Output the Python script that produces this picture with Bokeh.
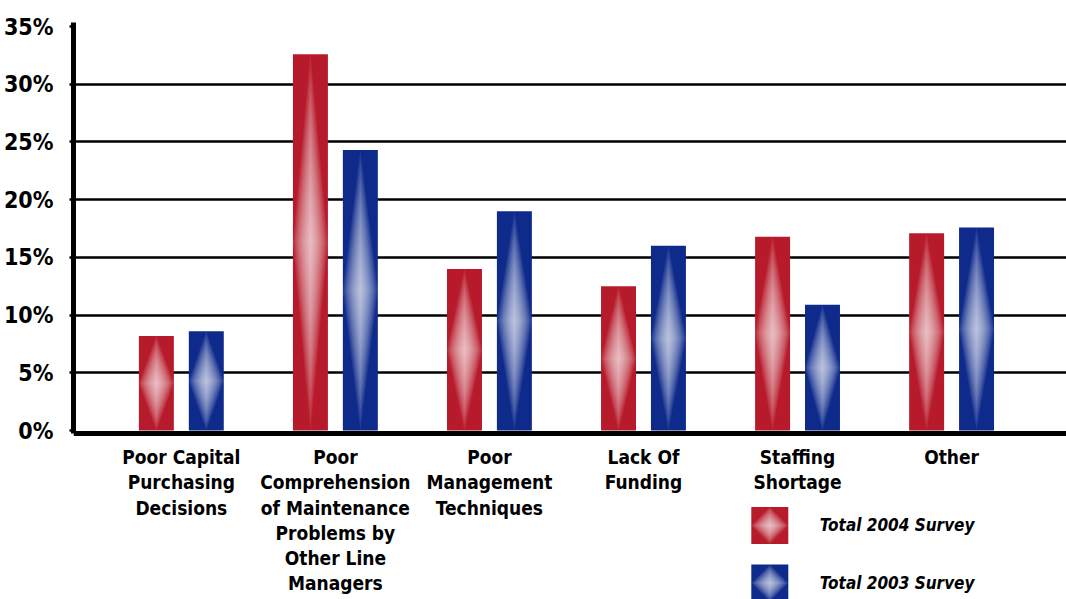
import math

from bokeh.plotting import figure
from bokeh.models import Range1d, FixedTicker, PrintfTickFormatter
from bokeh.embed import file_html
from bokeh.resources import INLINE
from bokeh.core.properties import value

# ---- data -------------------------------------------------------------
categories = [
    "Poor Capital\nPurchasing\nDecisions",
    "Poor\nComprehension\nof Maintenance\nProblems by\nOther Line\nManagers",
    "Poor\nManagement\nTechniques",
    "Lack Of\nFunding",
    "Staffing\nShortage",
    "Other",
]
survey_2004 = [8.2, 32.6, 14.0, 12.5, 16.8, 17.1]
survey_2003 = [8.6, 24.3, 19.0, 16.0, 10.9, 17.6]
series_names = ["Total 2004 Survey", "Total 2003 Survey"]
y_ticks = [0, 5, 10, 15, 20, 25, 30, 35]
grid_ticks = [5, 10, 15, 20, 25, 30]

# ---- styling ------------------------------------------------------------
FONT = "DejaVu Sans Condensed, Roboto"
RED = "#B71B2B"
BLUE = "#0E2A8B"
BAR_W = 0.227
OFFSET = 0.162
GLOW_LEVELS = 14
GLOW_ALPHA = 0.085

positions = list(range(1, len(categories) + 1))

p = figure(
    width=1066, height=599,
    x_range=Range1d(0.30, 6.746),
    y_range=Range1d(-14.64, 37.26),
    output_backend="svg", toolbar_location=None,
    min_border_left=72, min_border_right=0, min_border_top=0, min_border_bottom=0,
)
p.outline_line_color = None
p.background_fill_color = "white"
p.border_fill_color = "white"

# horizontal grid lines
p.xgrid.visible = False
p.ygrid.ticker = FixedTicker(ticks=grid_ticks)
p.ygrid.grid_line_color = "black"
p.ygrid.grid_line_width = 2.5

# y axis
p.yaxis.bounds = (-0.3, 35.35)
p.yaxis.ticker = FixedTicker(ticks=y_ticks)
p.yaxis.formatter = PrintfTickFormatter(format="%d%%")
p.yaxis.axis_line_width = 5
p.yaxis.axis_line_color = "black"
p.yaxis.major_tick_out = 4
p.yaxis.major_tick_in = 0
p.yaxis.major_tick_line_width = 2.5
p.yaxis.minor_tick_line_color = None
p.yaxis.major_label_standoff = 16
p.yaxis.major_label_text_font = FONT
p.yaxis.major_label_text_font_style = "bold"
p.yaxis.major_label_text_font_size = "23px"
p.yaxis.major_label_text_color = "black"

# x axis sits on the zero line, category names underneath
p.xaxis.fixed_location = -0.3
p.xaxis.ticker = FixedTicker(ticks=positions)
p.xaxis.major_label_overrides = {pos: name for pos, name in zip(positions, categories)}
p.xaxis.axis_line_width = 5
p.xaxis.axis_line_color = "black"
p.xaxis.major_tick_out = 0
p.xaxis.major_tick_in = 0
p.xaxis.minor_tick_line_color = None
p.xaxis.major_label_standoff = 12
p.xaxis.major_label_text_font = FONT
p.xaxis.major_label_text_font_style = "bold"
p.xaxis.major_label_text_font_size = "19px"
p.xaxis.major_label_text_line_height = 1.15
p.xaxis.major_label_text_color = "black"


def diamond_glow(xs_center, tops):
    """Nested white diamonds spanning each bar, building a soft highlight."""
    xs, ys = [], []
    for xc, top in zip(xs_center, tops):
        mid = top / 2.0
        for k in range(GLOW_LEVELS, 0, -1):
            s = k / GLOW_LEVELS
            hw = s * BAR_W / 2.0
            hh = s * top / 2.0
            xs.append([xc, xc + hw, xc, xc - hw])
            ys.append([mid + hh, mid, mid - hh, mid])
    return xs, ys


for vals, color, off in ((survey_2004, RED, -OFFSET), (survey_2003, BLUE, OFFSET)):
    xc = [pos + off for pos in positions]
    p.vbar(x=xc, top=vals, bottom=0, width=BAR_W, fill_color=color, line_color=None)
    gx, gy = diamond_glow(xc, vals)
    p.patches(gx, gy, fill_color="white", fill_alpha=GLOW_ALPHA, line_color=None)

# legend: glowing swatches with italic labels
legend_x = 4.82
legend_text_x = 5.145
legend_y = [-8.22, -13.22]
SWATCH = 37
p.rect(x=[legend_x] * 2, y=legend_y, width=SWATCH, height=SWATCH,
       width_units="screen", height_units="screen",
       fill_color=[RED, BLUE], line_color=None)
for k in range(GLOW_LEVELS, 0, -1):
    s = k / GLOW_LEVELS
    p.scatter(x=[legend_x] * 2, y=legend_y, marker="square", angle=math.pi / 4,
              size=s * SWATCH / math.sqrt(2), fill_color="white",
              fill_alpha=GLOW_ALPHA, line_color=None)
p.text(x=[legend_text_x] * 2, y=legend_y, text=series_names,
       text_font=value(FONT), text_font_style="bold italic",
       text_font_size="17px", text_baseline="middle", text_color="black")

open("out.html", "w").write(file_html(p, INLINE))
